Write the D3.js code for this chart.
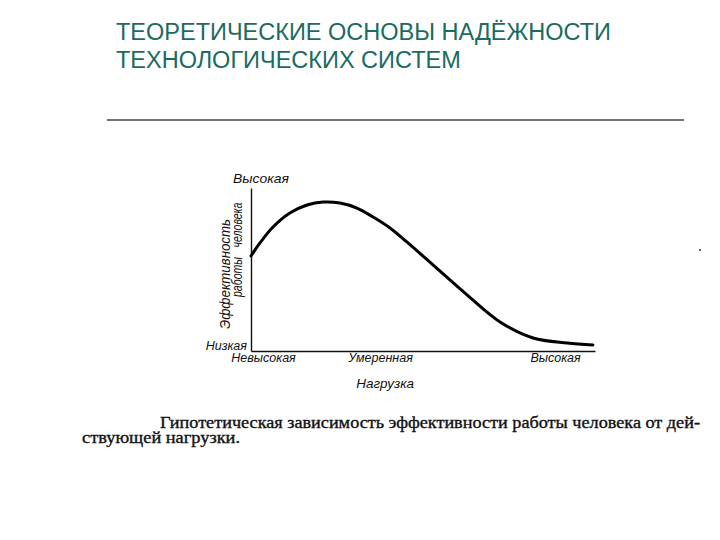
<!DOCTYPE html>
<html><head><meta charset="utf-8">
<script src="https://cdn.jsdelivr.net/npm/d3@7"></script>
<style>
body{margin:0;background:#fff;}
svg{display:block;}
</style></head>
<body>
<svg id="c" width="720" height="540"></svg>
<script>
const titleLines = ["ТЕОРЕТИЧЕСКИЕ ОСНОВЫ НАДЁЖНОСТИ", "ТЕХНОЛОГИЧЕСКИХ СИСТЕМ"];
const loadValues = [0, 0.26, 0.64, 1.13, 1.63, 2.09, 2.59, 3.08, 3.55, 4.04, 4.53, 5.29, 6.28, 7.24, 8.2, 9.19, 9.94];
const efficiencyValues = [5.83, 6.63, 7.61, 8.47, 8.96, 9.14, 9.08, 8.77, 8.22, 7.55, 6.69, 5.28, 3.44, 1.78, 0.8, 0.49, 0.37];
const xTickValues = [0.35, 3.75, 8.84];
const xTickLabels = ["Невысокая", "Умеренная", "Высокая"];
const yTickLabels = ["Низкая", "Высокая"];
const xAxisTitle = "Нагрузка";
const yAxisTitle = ["Эффективность", "работы", "человека"];
const captionLines = ["Гипотетическая зависимость эффективности работы человека от дей-", "ствующей нагрузки."];

const svg = d3.select("#c");
const x = d3.scaleLinear().domain([0, 10]).range([251, 595]);
const y = d3.scaleLinear().domain([0, 10]).range([351, 188]);

// Title
svg.append("g").selectAll("text").data(titleLines).join("text")
  .attr("x", 116).attr("y", (d,i) => 40 + i*28)
  .attr("font-family", "Liberation Sans, Arial, sans-serif")
  .attr("font-size", 23.5).attr("fill", "#1b6b60")
  .text(d => d);

// Rule
svg.append("line").attr("x1", 107).attr("x2", 684).attr("y1", 120).attr("y2", 120)
  .attr("stroke", "#444").attr("stroke-width", 1.6);

// small dot artifact
svg.append("rect").attr("x", 699).attr("y", 249).attr("width", 2).attr("height", 2).attr("fill", "#666");

const lblFont = "Liberation Sans, Arial, sans-serif";

// X axis
const xAxis = d3.axisBottom(x).tickValues(xTickValues)
  .tickFormat((d,i) => xTickLabels[i]).tickSize(0).tickPadding(2);
const gx = svg.append("g").attr("transform", `translate(0,${y(0)})`).call(xAxis);
gx.select(".domain").attr("stroke", "#111").attr("stroke-width", 1.4);
gx.selectAll("text").attr("font-family", lblFont).attr("font-style", "italic")
  .attr("font-size", 12.5).attr("fill", "#111");

// Y axis
const yAxis = d3.axisLeft(y).tickValues([]).tickSize(0);
const gy = svg.append("g").attr("transform", `translate(${x(0)},0)`).call(yAxis);
gy.select(".domain").attr("stroke", "#111").attr("stroke-width", 1.4);

// Y tick labels
svg.append("text").attr("x", x(0) - 4).attr("y", y(0) - 1)
  .attr("text-anchor", "end").attr("font-family", lblFont).attr("font-style", "italic")
  .attr("font-size", 12.5).attr("fill", "#111").text(yTickLabels[0]);
svg.append("text").attr("x", 233).attr("y", y(10) - 5)
  .attr("font-family", lblFont).attr("font-style", "italic")
  .attr("font-size", 13).attr("fill", "#111")
  .attr("textLength", 56).attr("lengthAdjust", "spacingAndGlyphs").text(yTickLabels[1]);

// X axis title
svg.append("text").attr("x", x(3.9)).attr("y", 388)
  .attr("text-anchor", "middle").attr("font-family", lblFont).attr("font-style", "italic")
  .attr("font-size", 13.5).attr("fill", "#111").text(xAxisTitle);

// Y axis titles (rotated)
const yT = [
  {t: yAxisTitle[0], cx: 230, cy: 274, len: 110},
  {t: yAxisTitle[1], cx: 242, cy: 277, len: 40},
  {t: yAxisTitle[2], cx: 242, cy: 225, len: 45}
];
svg.append("g").selectAll("text").data(yT).join("text")
  .attr("transform", d => `translate(${d.cx},${d.cy}) rotate(-90)`)
  .attr("text-anchor", "middle")
  .attr("font-family", lblFont).attr("font-style", "italic")
  .attr("font-size", 14).attr("fill", "#111")
  .attr("textLength", d => d.len).attr("lengthAdjust", "spacingAndGlyphs")
  .text(d => d.t);

// Curve
const pts = loadValues.map((v,i) => [v, efficiencyValues[i]]);
svg.append("path").datum(pts)
  .attr("d", d3.line().x(d => x(d[0])).y(d => y(d[1])).curve(d3.curveCatmullRom.alpha(0.5)))
  .attr("fill", "none").attr("stroke", "#000").attr("stroke-width", 3)
  .attr("stroke-linecap", "round");

// Caption
svg.append("g").selectAll("text").data(captionLines).join("text")
  .attr("x", (d,i) => i ? 82 : 160).attr("y", (d,i) => 428 + i*15)
  .attr("font-family", "Liberation Serif, Times New Roman, serif")
  .attr("font-size", 16).attr("fill", "#111")
  .attr("stroke", "#111").attr("stroke-width", 0.35)
  .attr("textLength", (d,i) => i ? 158 : 540).attr("lengthAdjust", "spacingAndGlyphs")
  .text(d => d);
</script>
</body></html>
